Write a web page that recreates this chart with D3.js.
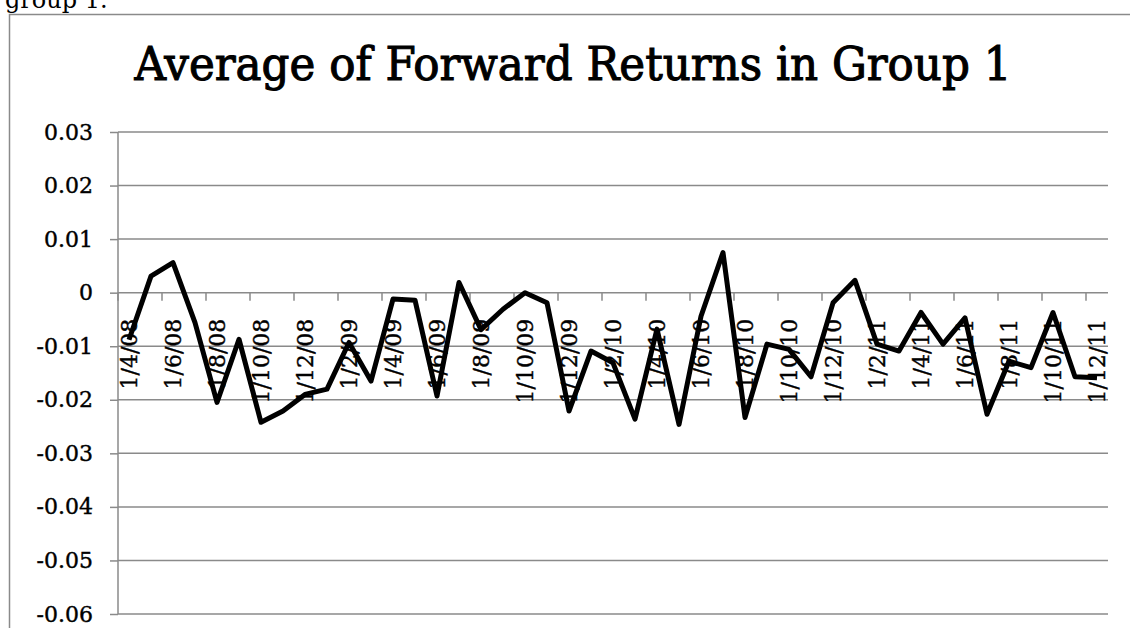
<!DOCTYPE html>
<html>
<head>
<meta charset="utf-8">
<script src="https://cdn.jsdelivr.net/npm/d3@7"></script>
<style>
  body { margin: 0; background: #fff; }
  text { font-family: "DejaVu Serif", serif; fill: #000; }
</style>
</head>
<body>
<svg id="chart" width="1130" height="628"></svg>
<script>
// monthly categories, Apr 2008 .. Dec 2011
var categories = [
  "1/4/08", "1/5/08", "1/6/08", "1/7/08", "1/8/08", "1/9/08", "1/10/08", "1/11/08", "1/12/08",
  "1/1/09", "1/2/09", "1/3/09", "1/4/09", "1/5/09", "1/6/09", "1/7/09", "1/8/09", "1/9/09", "1/10/09", "1/11/09", "1/12/09",
  "1/1/10", "1/2/10", "1/3/10", "1/4/10", "1/5/10", "1/6/10", "1/7/10", "1/8/10", "1/9/10", "1/10/10", "1/11/10", "1/12/10",
  "1/1/11", "1/2/11", "1/3/11", "1/4/11", "1/5/11", "1/6/11", "1/7/11", "1/8/11", "1/9/11", "1/10/11", "1/11/11", "1/12/11"
];
var values = [
  -0.0088, 0.0031, 0.0056, -0.0056, -0.0205, -0.0087, -0.0242, -0.0221, -0.0190,
  -0.0180, -0.0093, -0.0165, -0.0012, -0.0014, -0.0193, 0.0019, -0.0069, -0.0031, 0.0000, -0.0019, -0.0221,
  -0.0109, -0.0131, -0.0236, -0.0068, -0.0246, -0.0044, 0.0075, -0.0233, -0.0096, -0.0106, -0.0157, -0.0019,
  0.0023, -0.0096, -0.0109, -0.0037, -0.0096, -0.0047, -0.0227, -0.0128, -0.0140, -0.0037, -0.0157, -0.0159
];
var yTicks = [0.03, 0.02, 0.01, 0, -0.01, -0.02, -0.03, -0.04, -0.05, -0.06];
var title = "Average of Forward Returns in Group 1";

var svg = d3.select("#chart");
var gridColor = "#8a8a8a";

// caption of the surrounding document, cut at the top
svg.append("text").attr("x", 5).attr("y", 8).attr("font-size", 24).text("group 1.");

// chart frame
svg.append("path")
  .attr("d", "M9.5,640 V14.5 H1140")
  .attr("fill", "none").attr("stroke", gridColor).attr("stroke-width", 1.5);

var t = svg.append("text")
  .attr("x", 573).attr("y", 80)
  .attr("text-anchor", "middle")
  .attr("font-size", 46)
  .attr("stroke", "#000").attr("stroke-width", 1.1)
  .text(title);
if (t.node().getComputedTextLength() > 877) {
  t.attr("textLength", 877).attr("lengthAdjust", "spacingAndGlyphs");
}

var x = d3.scaleBand().domain(categories).range([118, 1108]);
var y = d3.scaleLinear().domain([-0.06, 0.03]).range([614, 132]);

// horizontal gridlines
svg.append("g").selectAll("line").data(yTicks).join("line")
  .attr("x1", 118).attr("x2", 1108)
  .attr("y1", function (d) { return y(d); }).attr("y2", function (d) { return y(d); })
  .attr("stroke", gridColor).attr("stroke-width", 1.5);

// y axis
var yAxis = svg.append("g")
  .attr("transform", "translate(118,0)")
  .call(d3.axisLeft(y).tickValues(yTicks).tickSize(8).tickPadding(17)
    .tickFormat(function (d) { return d === 0 ? "0" : d.toFixed(2); }));
yAxis.selectAll("line, path").attr("stroke", gridColor).attr("stroke-width", 1.5);
yAxis.select(".domain").attr("d", "M0," + y(0.03) + "V" + y(-0.06));
yAxis.selectAll("text").attr("font-size", 22).attr("font-family", "DejaVu Serif")
  .attr("fill", "#000").attr("stroke", "#000").attr("stroke-width", 0.4);

// x axis crosses at zero, ticks between every second category
var shown = categories.filter(function (d, i) { return i % 2 === 0; });
var xAxis = svg.append("g").attr("transform", "translate(0," + y(0) + ")");
xAxis.selectAll("line").data(shown).join("line")
  .attr("x1", function (d) { return x(d); }).attr("x2", function (d) { return x(d); })
  .attr("y1", 0).attr("y2", 8)
  .attr("stroke", gridColor).attr("stroke-width", 1.5);
xAxis.selectAll("text").data(shown).join("text")
  .attr("transform", function (d) { return "translate(" + (x(d) + x.bandwidth() / 2) + ",26) rotate(-90)"; })
  .attr("text-anchor", "end")
  .attr("dy", "0.35em")
  .attr("font-size", 22)
  .attr("stroke", "#000").attr("stroke-width", 0.4)
  .text(function (d) { return d; });

// series
var line = d3.line()
  .x(function (d, i) { return x(categories[i]) + x.bandwidth() / 2; })
  .y(function (d) { return y(d); });
svg.append("path")
  .datum(values)
  .attr("d", line)
  .attr("fill", "none")
  .attr("stroke", "#000")
  .attr("stroke-width", 5)
  .attr("stroke-linejoin", "round");
</script>
</body>
</html>
